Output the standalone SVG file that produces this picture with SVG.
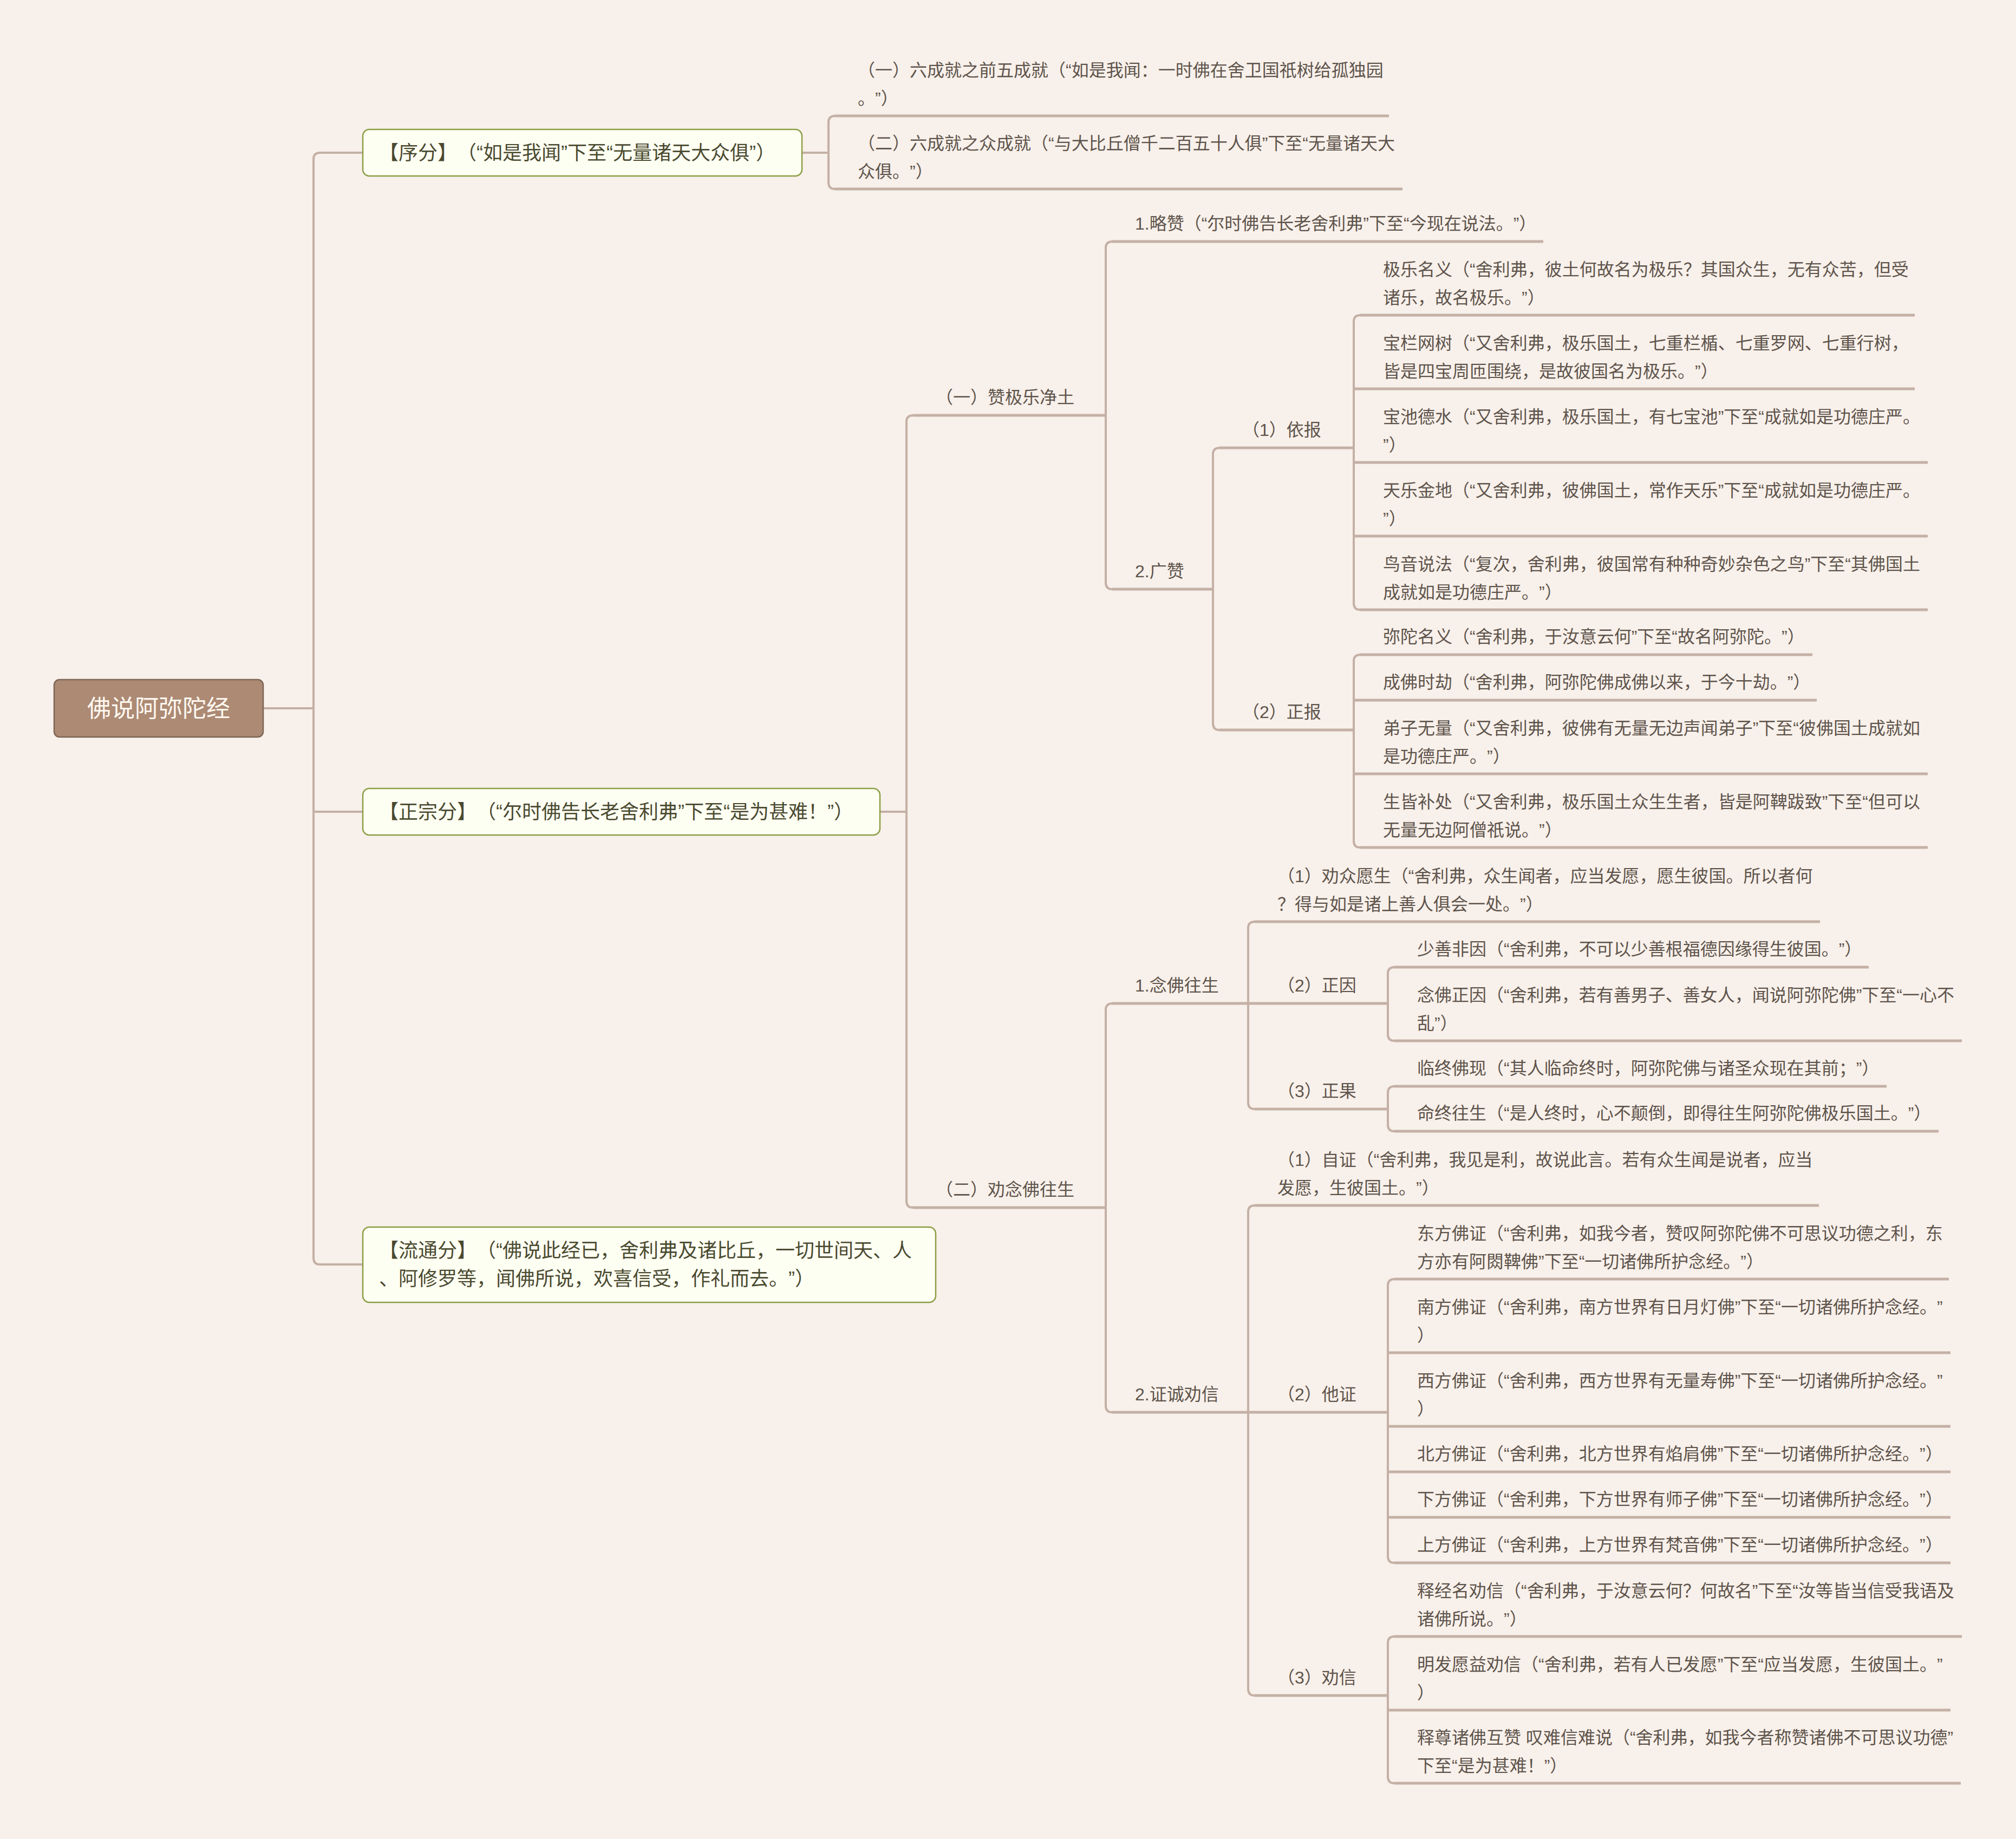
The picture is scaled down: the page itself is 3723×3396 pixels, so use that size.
<svg xmlns="http://www.w3.org/2000/svg" width="3723" height="3396" viewBox="0 0 3723 3396">
<style>
.t{font-family:"Liberation Sans","Noto Sans CJK SC",sans-serif;font-size:32px;fill:#5E544C;dominant-baseline:central;text-spacing-trim:space-all;font-kerning:none}
.t1{font-size:36px;fill:#4A4A30}
.t0{font-size:44px;fill:#FFF8F0;text-anchor:middle}
.c{fill:none;stroke:#C4B0A5;stroke-width:4}
.u{stroke:#C4B0A5;stroke-width:5}
.b1{fill:#FEFFF3;stroke:#8A9E45;stroke-width:2.5}
.b0{fill:#AC8A74;stroke:#7E6656;stroke-width:2.5}
</style>
<rect width="3723" height="3396" fill="#F8F0EA"/>
<g id="connectors">
<path class="c" d="M486,1308 H579 M670,282 H591 Q579,282 579,294 V2323 Q579,2335 591,2335 H670 M579,1499 H670"/>
<path class="c" d="M1481,282 H1530 M1542,214 Q1530,214 1530,226 V337 Q1530,349 1542,349"/>
<path class="c" d="M1625,1499 H1674 M1686,767 Q1674,767 1674,779 V2218 Q1674,2230 1686,2230"/>
<path class="c" d="M2054,446 Q2042,446 2042,458 V1076 Q2042,1088 2054,1088"/>
<path class="c" d="M2252,827 Q2240,827 2240,839 V1336 Q2240,1348 2252,1348"/>
<path class="c" d="M2512,582 Q2500,582 2500,594 V1114 Q2500,1126 2512,1126"/>
<path class="c" d="M2512,1209 Q2500,1209 2500,1221 V1553 Q2500,1565 2512,1565"/>
<path class="c" d="M2054,1853 Q2042,1853 2042,1865 V2596 Q2042,2608 2054,2608"/>
<path class="c" d="M2317,1702 Q2305,1702 2305,1714 V2036 Q2305,2048 2317,2048"/>
<path class="c" d="M2317,2226 Q2305,2226 2305,2238 V3119 Q2305,3131 2317,3131"/>
<path class="c" d="M2575,1786 Q2563,1786 2563,1798 V1910 Q2563,1922 2575,1922"/>
<path class="c" d="M2575,2006 Q2563,2006 2563,2018 V2077 Q2563,2089 2575,2089"/>
<path class="c" d="M2575,2362 Q2563,2362 2563,2374 V2874 Q2563,2886 2575,2886"/>
<path class="c" d="M2575,3022 Q2563,3022 2563,3034 V3281 Q2563,3293 2575,3293"/>
</g>
<g id="root"><rect class="b0" x="100" y="1255" width="386" height="106" rx="10"/><text class="t t0" x="293" y="1308">佛说阿弥陀经</text></g>
<g id="n-xufen"><rect class="b1" x="670" y="239" width="811" height="86" rx="12"/><text class="t t1" x="700" y="282">【序分】（“如是我闻”下至“无量诸天大众俱”）</text></g>
<g id="n-zhengzong"><rect class="b1" x="670" y="1456" width="955" height="86" rx="12"/><text class="t t1" x="700" y="1499">【正宗分】（“尔时佛告长老舍利弗”下至“是为甚难！”）</text></g>
<g id="n-liutong"><rect class="b1" x="670" y="2266" width="1058" height="139" rx="12"/><text class="t t1" x="700" y="2309">【流通分】（“佛说此经已，舍利弗及诸比丘，一切世间天、人</text><text class="t t1" x="700" y="2361">、阿修罗等，闻佛所说，欢喜信受，作礼而去。”）</text></g>

<g id="n4"><line class="u" x1="1542" y1="214" x2="2565" y2="214"/><text class="t" x="1584" y="130">（一）六成就之前五成就（“如是我闻：一时佛在舍卫国祇树给孤独园</text><text class="t" x="1584" y="182">。”）</text></g>
<g id="n5"><line class="u" x1="1542" y1="349" x2="2590" y2="349"/><text class="t" x="1584" y="265">（二）六成就之众成就（“与大比丘僧千二百五十人俱”下至“无量诸天大</text><text class="t" x="1584" y="317">众俱。”）</text></g>

<g id="n6"><line class="u" x1="1686" y1="767" x2="2042" y2="767"/><text class="t" x="1728" y="734">（一）赞极乐净土</text></g>
<g id="n20"><line class="u" x1="1686" y1="2230" x2="2042" y2="2230"/><text class="t" x="1728" y="2197">（二）劝念佛往生</text></g>

<g id="n7"><line class="u" x1="2054" y1="446" x2="2850" y2="446"/><text class="t" x="2096" y="413">1.略赞（“尔时佛告长老舍利弗”下至“今现在说法。”）</text></g>
<g id="n8"><line class="u" x1="2054" y1="1088" x2="2240" y2="1088"/><text class="t" x="2096" y="1055">2.广赞</text></g>
<g id="n9"><line class="u" x1="2252" y1="827" x2="2500" y2="827"/><text class="t" x="2294" y="794">（1）依报</text></g>
<g id="n15"><line class="u" x1="2252" y1="1348" x2="2500" y2="1348"/><text class="t" x="2294" y="1315">（2）正报</text></g>

<g id="n10"><line class="u" x1="2512" y1="582" x2="3536" y2="582"/><text class="t" x="2554" y="498">极乐名义（“舍利弗，彼土何故名为极乐？其国众生，无有众苦，但受</text><text class="t" x="2554" y="550">诸乐，故名极乐。”）</text></g>
<g id="n11"><line class="u" x1="2500" y1="718" x2="3536" y2="718"/><text class="t" x="2554" y="634">宝栏网树（“又舍利弗，极乐国土，七重栏楯、七重罗网、七重行树，</text><text class="t" x="2554" y="686">皆是四宝周匝围绕，是故彼国名为极乐。”）</text></g>
<g id="n12"><line class="u" x1="2500" y1="854" x2="3560" y2="854"/><text class="t" x="2554" y="770">宝池德水（“又舍利弗，极乐国土，有七宝池”下至“成就如是功德庄严。</text><text class="t" x="2554" y="822">”）</text></g>
<g id="n13"><line class="u" x1="2500" y1="990" x2="3560" y2="990"/><text class="t" x="2554" y="906">天乐金地（“又舍利弗，彼佛国土，常作天乐”下至“成就如是功德庄严。</text><text class="t" x="2554" y="958">”）</text></g>
<g id="n14"><line class="u" x1="2512" y1="1126" x2="3560" y2="1126"/><text class="t" x="2554" y="1042">鸟音说法（“复次，舍利弗，彼国常有种种奇妙杂色之鸟”下至“其佛国土</text><text class="t" x="2554" y="1094">成就如是功德庄严。”）</text></g>

<g id="n16"><line class="u" x1="2512" y1="1209" x2="3347" y2="1209"/><text class="t" x="2554" y="1176">弥陀名义（“舍利弗，于汝意云何”下至“故名阿弥陀。”）</text></g>
<g id="n17"><line class="u" x1="2500" y1="1293" x2="3355" y2="1293"/><text class="t" x="2554" y="1260">成佛时劫（“舍利弗，阿弥陀佛成佛以来，于今十劫。”）</text></g>
<g id="n18"><line class="u" x1="2500" y1="1429" x2="3560" y2="1429"/><text class="t" x="2554" y="1345">弟子无量（“又舍利弗，彼佛有无量无边声闻弟子”下至“彼佛国土成就如</text><text class="t" x="2554" y="1397">是功德庄严。”）</text></g>
<g id="n19"><line class="u" x1="2512" y1="1565" x2="3560" y2="1565"/><text class="t" x="2554" y="1481">生皆补处（“又舍利弗，极乐国土众生生者，皆是阿鞞跋致”下至“但可以</text><text class="t" x="2554" y="1533">无量无边阿僧祇说。”）</text></g>

<g id="n21"><line class="u" x1="2054" y1="1853" x2="2305" y2="1853"/><text class="t" x="2096" y="1820">1.念佛往生</text></g>
<g id="n29"><line class="u" x1="2054" y1="2608" x2="2305" y2="2608"/><text class="t" x="2096" y="2575">2.证诚劝信</text></g>

<g id="n22"><line class="u" x1="2317" y1="1702" x2="3361" y2="1702"/><text class="t" x="2359" y="1618">（1）劝众愿生（“舍利弗，众生闻者，应当发愿，愿生彼国。所以者何</text><text class="t" x="2359" y="1670">？得与如是诸上善人俱会一处。”）</text></g>
<g id="n23"><line class="u" x1="2305" y1="1853" x2="2563" y2="1853"/><text class="t" x="2359" y="1820">（2）正因</text></g>
<g id="n26"><line class="u" x1="2317" y1="2048" x2="2563" y2="2048"/><text class="t" x="2359" y="2015">（3）正果</text></g>
<g id="n30"><line class="u" x1="2317" y1="2226" x2="3359" y2="2226"/><text class="t" x="2359" y="2142">（1）自证（“舍利弗，我见是利，故说此言。若有众生闻是说者，应当</text><text class="t" x="2359" y="2194">发愿，生彼国土。”）</text></g>
<g id="n31"><line class="u" x1="2305" y1="2608" x2="2563" y2="2608"/><text class="t" x="2359" y="2575">（2）他证</text></g>
<g id="n38"><line class="u" x1="2317" y1="3131" x2="2563" y2="3131"/><text class="t" x="2359" y="3098">（3）劝信</text></g>

<g id="n24"><line class="u" x1="2575" y1="1786" x2="3451" y2="1786"/><text class="t" x="2617" y="1753">少善非因（“舍利弗，不可以少善根福德因缘得生彼国。”）</text></g>
<g id="n25"><line class="u" x1="2575" y1="1922" x2="3623" y2="1922"/><text class="t" x="2617" y="1838">念佛正因（“舍利弗，若有善男子、善女人，闻说阿弥陀佛”下至“一心不</text><text class="t" x="2617" y="1890">乱”）</text></g>
<g id="n27"><line class="u" x1="2575" y1="2006" x2="3484" y2="2006"/><text class="t" x="2617" y="1973">临终佛现（“其人临命终时，阿弥陀佛与诸圣众现在其前；”）</text></g>
<g id="n28"><line class="u" x1="2575" y1="2089" x2="3580" y2="2089"/><text class="t" x="2617" y="2056">命终往生（“是人终时，心不颠倒，即得往生阿弥陀佛极乐国土。”）</text></g>

<g id="n32"><line class="u" x1="2575" y1="2362" x2="3599" y2="2362"/><text class="t" x="2617" y="2278">东方佛证（“舍利弗，如我今者，赞叹阿弥陀佛不可思议功德之利，东</text><text class="t" x="2617" y="2330">方亦有阿閦鞞佛”下至“一切诸佛所护念经。”）</text></g>
<g id="n33"><line class="u" x1="2563" y1="2498" x2="3602" y2="2498"/><text class="t" x="2617" y="2414">南方佛证（“舍利弗，南方世界有日月灯佛”下至“一切诸佛所护念经。”</text><text class="t" x="2617" y="2466">）</text></g>
<g id="n34"><line class="u" x1="2563" y1="2634" x2="3602" y2="2634"/><text class="t" x="2617" y="2550">西方佛证（“舍利弗，西方世界有无量寿佛”下至“一切诸佛所护念经。”</text><text class="t" x="2617" y="2602">）</text></g>
<g id="n35"><line class="u" x1="2563" y1="2718" x2="3602" y2="2718"/><text class="t" x="2617" y="2685">北方佛证（“舍利弗，北方世界有焰肩佛”下至“一切诸佛所护念经。”）</text></g>
<g id="n36"><line class="u" x1="2563" y1="2802" x2="3602" y2="2802"/><text class="t" x="2617" y="2769">下方佛证（“舍利弗，下方世界有师子佛”下至“一切诸佛所护念经。”）</text></g>
<g id="n37"><line class="u" x1="2575" y1="2886" x2="3602" y2="2886"/><text class="t" x="2617" y="2853">上方佛证（“舍利弗，上方世界有梵音佛”下至“一切诸佛所护念经。”）</text></g>

<g id="n39"><line class="u" x1="2575" y1="3022" x2="3623" y2="3022"/><text class="t" x="2617" y="2938">释经名劝信（“舍利弗，于汝意云何？何故名”下至“汝等皆当信受我语及</text><text class="t" x="2617" y="2990">诸佛所说。”）</text></g>
<g id="n40"><line class="u" x1="2563" y1="3158" x2="3602" y2="3158"/><text class="t" x="2617" y="3074">明发愿益劝信（“舍利弗，若有人已发愿”下至“应当发愿，生彼国土。”</text><text class="t" x="2617" y="3126">）</text></g>
<g id="n41"><line class="u" x1="2575" y1="3293" x2="3621" y2="3293"/><text class="t" x="2617" y="3209">释尊诸佛互赞 叹难信难说（“舍利弗，如我今者称赞诸佛不可思议功德”</text><text class="t" x="2617" y="3261">下至“是为甚难！”）</text></g>
</svg>
